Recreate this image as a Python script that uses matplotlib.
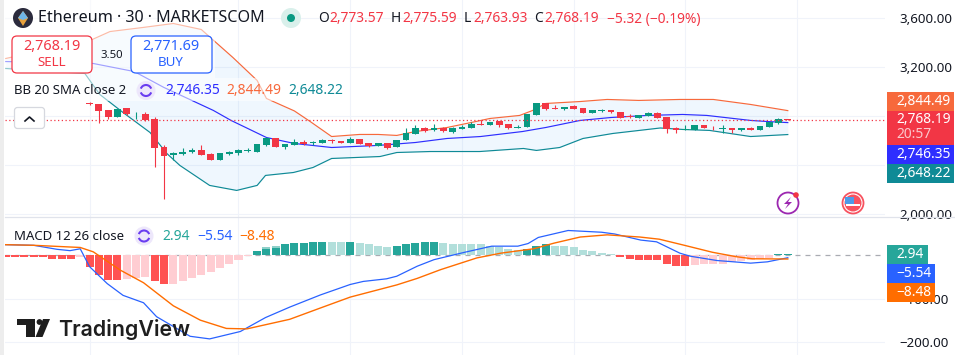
import numpy as np
import matplotlib
matplotlib.use("Agg")
import matplotlib.pyplot as plt
from matplotlib.patches import Rectangle, FancyBboxPatch, Circle, Polygon, Arc

plt.rcParams["font.family"] = ["Noto Sans", "DejaVu Sans"]

# candles
bar_idx = list(range(76))
opens = [2905, 2895, 2846, 2791, 2862, 2816, 2819, 2772, 2542, 2482, 2485, 2501, 2518, 2485, 2438, 2487, 2495, 2512, 2509,
         2559, 2616, 2542, 2561, 2591, 2578, 2578, 2600, 2594, 2575, 2608, 2575, 2555, 2578, 2545, 2600, 2649, 2698, 2682,
         2704, 2673, 2695, 2706, 2738, 2723, 2758, 2731, 2698, 2709, 2807, 2911, 2865, 2854, 2881, 2862, 2829, 2838, 2846,
         2835, 2799, 2788, 2799, 2821, 2796, 2700, 2682, 2682, 2725, 2706, 2690, 2706, 2684, 2706, 2682, 2714, 2745, 2773]
highs = [2915, 2897, 2850, 2860, 2862, 2835, 2837, 2796, 2559, 2507, 2540, 2540, 2559, 2496, 2493, 2510, 2526, 2534, 2567,
         2626, 2616, 2567, 2608, 2600, 2594, 2608, 2610, 2594, 2627, 2608, 2575, 2575, 2578, 2605, 2698, 2723, 2714, 2731,
         2709, 2714, 2725, 2752, 2769, 2755, 2758, 2736, 2725, 2813, 2911, 2911, 2887, 2878, 2887, 2862, 2846, 2854, 2851,
         2835, 2813, 2805, 2830, 2830, 2796, 2709, 2724, 2723, 2730, 2720, 2725, 2706, 2706, 2712, 2720, 2753, 2786, 2775.59]
lows = [2890, 2741, 2774, 2791, 2805, 2772, 2758, 2386, 2118, 2441, 2477, 2498, 2480, 2438, 2438, 2477, 2482, 2506, 2509,
        2553, 2542, 2526, 2561, 2561, 2561, 2578, 2583, 2578, 2575, 2569, 2545, 2555, 2526, 2545, 2600, 2649, 2668, 2676,
        2670, 2665, 2690, 2706, 2725, 2723, 2709, 2692, 2698, 2709, 2807, 2846, 2854, 2846, 2856, 2829, 2829, 2835, 2824,
        2788, 2788, 2788, 2799, 2788, 2660, 2657, 2682, 2682, 2700, 2682, 2665, 2665, 2680, 2684, 2682, 2714, 2738, 2763.93]
closes = [2895, 2840, 2791, 2860, 2813, 2819, 2764, 2536, 2471, 2499, 2509, 2518, 2480, 2438, 2493, 2503, 2520, 2520, 2567,
          2616, 2542, 2567, 2589, 2567, 2586, 2600, 2594, 2578, 2608, 2569, 2553, 2575, 2540, 2605, 2657, 2698, 2676, 2698,
          2676, 2706, 2714, 2736, 2730, 2755, 2725, 2698, 2714, 2813, 2911, 2854, 2856, 2878, 2856, 2829, 2846, 2846, 2832,
          2788, 2791, 2805, 2821, 2788, 2690, 2682, 2690, 2723, 2700, 2698, 2706, 2682, 2706, 2684, 2720, 2753, 2772, 2768.19]

# bollinger bands (read at the bends of each line)
upper_x = [-9, 0.3, 2.2, 5.7, 9, 12, 15.4, 18, 19, 22, 23.7, 26, 29, 31, 33, 35, 38.4, 41, 43, 46.2, 47.6, 49, 52.7, 55.6, 59, 63.4, 67, 71, 75]
upper_y = [3272, 3428, 3493, 3526, 3559, 3510, 3280, 3092, 2944, 2842, 2755, 2632, 2649, 2649, 2641, 2673, 2706, 2747, 2780, 2805, 2846, 2903, 2919, 2936, 2928, 2936, 2936, 2895, 2844.49]
mid_x = [-9, 0.4, 4.8, 8, 13.3, 15.2, 19, 22, 26, 31, 35, 38.4, 42, 46.5, 49, 52.7, 56, 59.9, 63.7, 66.3, 71, 72.8, 75]
mid_y = [3247, 3231, 3165, 3034, 2846, 2764, 2624, 2575, 2542, 2559, 2583, 2616, 2632, 2673, 2706, 2764, 2788, 2805, 2813, 2805, 2764, 2755, 2746.35]
lower_x = [-9, -0.5, 1.1, 3.6, 6.5, 8.3, 9.7, 12.9, 15.8, 18, 18.9, 21.9, 24, 26, 31.2, 33, 36.6, 41.9, 46.6, 48, 50.5, 53, 56.2, 61.3, 63.7, 66.6, 71, 75]
lower_y = [3190, 3149, 2977, 2829, 2665, 2493, 2395, 2231, 2190, 2231, 2313, 2337, 2378, 2452, 2468, 2501, 2509, 2509, 2534, 2518, 2542, 2616, 2657, 2702, 2690, 2682, 2632, 2648.22]

# macd
hist_idx = list(range(-9, 76))
hist = [-3, -3, -3, -3, -5, -8, -8, -8, -3, -26, -45, -57, -57, -54, -51, -49, -59, -66, -66, -59, -53, -45, -38, -29, -20,
        -11, -2, 10, 15, 16, 26, 28, 28, 30, 31, 31, 31, 31, 29, 25, 22, 20, 22, 25, 29, 31, 31, 29, 27, 27, 25, 25, 21, 19, 15,
        13, 15, 22, 25, 22, 22, 18, 13, 11, 6, 4, -3, -8, -10, -10, -10, -20, -25, -25, -22, -21, -20, -20, -15, -13, -11, -8, -6, 2, 2.94]
hist_strong = [1, 1, 1, 1, 1, 1, 1, 1, 0, 1, 1, 1, 1, 0, 0, 0, 1, 1, 0, 0, 0, 0, 0, 0, 0,
               0, 0, 1, 1, 1, 1, 1, 1, 1, 1, 0, 0, 1, 0, 0, 0, 0, 1, 1, 1, 1, 1, 0, 0, 0, 0, 0, 0, 0, 0,
               0, 1, 1, 1, 0, 0, 0, 0, 0, 0, 0, 1, 1, 1, 1, 1, 1, 1, 1, 0, 0, 0, 0, 0, 0, 0, 0, 0, 1, 1]
cap_idx = [19, 20]
cap_vals = [20, 21]
macd_x = [-9.2, -6, -3.5, -2.1, -1, 0, 1.9, 3.6, 5.8, 7.2, 10.8, 12.9, 16.2, 18.9, 21.5, 24.8, 28, 29.4, 31.9, 33, 35.2, 37, 40.3, 43.2, 46, 47.1, 48.2, 51.4, 55, 56.4, 59.2, 60.9, 63.4, 64.5, 67.4, 71, 72.8, 75]
macd_y = [24.5, 23, 13.8, 10.7, 15, -26, -65, -92, -109, -141, -186, -192, -175, -143, -119, -91, -67, -60, -54, -48, -25, -10, 7, 21, 21, 27, 41, 57, 53, 49, 35, 31, 5, -2, -12, -18, -15, -5.54]
signal_x = [-9.2, -6, -1, 0.4, 3.3, 5.8, 9, 11.9, 14.7, 16.9, 21.5, 24.8, 28, 33, 35.2, 37.7, 41.6, 44.2, 47.7, 49.9, 52.7, 55.6, 59.1, 61.2, 63.7, 66.9, 69.4, 71.2, 75]
signal_y = [24.5, 23, 18, 8, -34, -63, -116, -149, -168, -169, -147, -121, -96, -68, -53, -33, -6, 5, 15, 28, 42, 47, 42, 37, 24, 7, -3, -8, -8.48]

price_ticks = [3600, 3200, 2800, 2400, 2000]
price_labels = ["3,600.00", "3,200.00", "", "", "2,000.00"]
macd_ticks = [-100, -200]
macd_labels = ["\u2212100.00", "\u2212200.00"]
time_ticks = [0, 16, 28, 40, 52, 64, 76]

RED = "#F23645"
GREEN = "#089981"
GRID = "#F0F3FA"
TXT = "#131722"
UP_COL = "#F7693C"
MID_COL = "#2E2EFF"
LOW_COL = "#0F8A96"
BLUE = "#2962FF"
ORANGE = "#FF6D00"

W, H = 955, 355
fig = plt.figure(figsize=(W / 100, H / 100), dpi=100)

ax1 = fig.add_axes([5 / W, (H - 217) / H, 880 / W, 217 / H])
ax2 = fig.add_axes([5 / W, 0, 880 / W, (H - 217) / H])

for ax in (ax1, ax2):
    ax.set_xlim(-9.08, 85.44)
    ax.set_xticks(time_ticks)
    ax.tick_params(axis="x", length=0, labelbottom=False)
    ax.tick_params(axis="y", length=0, labelsize=9.6, pad=10, labelcolor=TXT)
    ax.yaxis.tick_right()
    ax.grid(color=GRID, linewidth=0.8)
    ax.set_axisbelow(True)
    for s in ax.spines.values():
        s.set_visible(False)

ax1.set_ylim(1972, 3751.7)
ax1.set_yticks(price_ticks)
ax1.set_yticklabels(price_labels)
ax2.set_ylim(-229, 88)
ax2.set_yticks(macd_ticks)
ax2.set_yticklabels(macd_labels)

# bands
xs = np.array(sorted(set(upper_x + lower_x)))
ax1.fill_between(xs, np.interp(xs, upper_x, upper_y), np.interp(xs, lower_x, lower_y),
                 color="#2196F3", alpha=0.07, linewidth=0, zorder=1)
ax1.plot(upper_x, upper_y, color=UP_COL, linewidth=0.85, zorder=2)
ax1.plot(mid_x, mid_y, color=MID_COL, linewidth=0.85, zorder=2)
ax1.plot(lower_x, lower_y, color=LOW_COL, linewidth=0.85, zorder=2)

# candles
cols = [GREEN if c >= o else RED for o, c in zip(opens, closes)]
ax1.vlines(bar_idx, lows, highs, colors=cols, linewidth=0.8, zorder=3)
ax1.bar(bar_idx, np.abs(np.array(closes) - np.array(opens)), bottom=np.minimum(opens, closes),
        width=0.72, color=cols, linewidth=0, zorder=3)
ax1.axhline(closes[-1], color=RED, linewidth=0.9, linestyle=(0, (1, 2)), zorder=4)

# macd pane
hist_cols = []
for v, s in zip(hist, hist_strong):
    if v >= 0:
        hist_cols.append("#26A69A" if s else "#B2DFDB")
    else:
        hist_cols.append("#FF5252" if s else "#FFCDD2")
ax2.axhline(0, color="#A9ABB2", linewidth=0.9, linestyle=(0, (4, 4)), zorder=1)
ax2.bar(cap_idx, cap_vals, width=0.86, color="#8FD0C9", linewidth=0, zorder=2)
ax2.bar(hist_idx, hist, width=0.86, color=hist_cols, linewidth=0, zorder=2)
ax2.plot(macd_x, macd_y, color=BLUE, linewidth=0.9, zorder=3)
ax2.plot(signal_x, signal_y, color=ORANGE, linewidth=1.0, zorder=3)

# overlay in pixel coordinates for the widgets
ov = fig.add_axes([0, 0, 1, 1], zorder=10)
ov.set_xlim(0, W)
ov.set_ylim(H, 0)
ov.axis("off")
ov.patch.set_alpha(0)

ov.add_patch(Rectangle((0, 0), 4, H, color="#EDEDED", linewidth=0))
ov.plot([5, W], [217.3, 217.3], color="#E0E3EB", linewidth=0.9)

# legend backgrounds
ov.add_patch(Rectangle((5, 0), 210, 78, color="white", alpha=0.55, linewidth=0))
ov.add_patch(Rectangle((5, 78), 345, 23, color="white", alpha=0.55, linewidth=0))


def label(x, y, s, color=TXT, size=10, ha="left", weight="normal"):
    ov.text(x, y, s, color=color, fontsize=size, ha=ha, va="center", fontweight=weight)


def refresh(x, y):
    ov.add_patch(Circle((x, y), 9.5, color="#EDE7FB", linewidth=0))
    ov.add_patch(Arc((x, y), 11, 11, theta1=200, theta2=340, color="#6A3DF0", linewidth=1.5))
    ov.add_patch(Arc((x, y), 11, 11, theta1=20, theta2=160, color="#6A3DF0", linewidth=1.5))


# title row
ov.add_patch(Circle((23, 18), 10, color="#2B2B3D", linewidth=0))
ov.add_patch(Polygon([(23, 11), (28, 18), (23, 26), (18, 18)], color="#E8A13C", linewidth=0))
ov.add_patch(Polygon([(23, 11), (28, 18), (23, 20), (18, 18)], color="#6FB5E8", linewidth=0))
label(38, 18, "Ethereum \u00b7 30 \u00b7 MARKETSCOM", size=11.6)
ov.add_patch(Circle((291, 18), 10, color="#D9F0EB", linewidth=0))
ov.add_patch(Circle((291, 18), 4, color=GREEN, linewidth=0))
for x, s, c in [(318, "O", TXT), (329, "2,773.57", RED), (391, "H", TXT), (402, "2,775.59", RED),
                (464, "L", TXT), (473, "2,763.93", RED), (534, "C", TXT), (544, "2,768.19", RED),
                (607, "\u22125.32 (\u22120.19%)", RED)]:
    label(x, 19, s, c, 9.9)

# sell / buy boxes
ov.add_patch(FancyBboxPatch((15, 39), 74, 31, boxstyle="round,pad=3,rounding_size=5", fc="white", ec=RED, lw=0.9))
ov.add_patch(FancyBboxPatch((134, 39), 75, 31, boxstyle="round,pad=3,rounding_size=5", fc="white", ec=BLUE, lw=0.9))
label(52, 47, "2,768.19", RED, 10.4, "center", "medium")
label(52, 62, "SELL", RED, 9.6, "center")
label(171, 47, "2,771.69", BLUE, 10.4, "center", "medium")
label(171, 62, "BUY", BLUE, 9.6, "center")
label(112, 55, "3.50", TXT, 8.2, "center")

# BB legend
label(14, 90.5, "BB 20 SMA close 2", TXT, 9.5)
refresh(146, 90.5)
label(165, 90.5, "2,746.35", MID_COL, 10)
label(226, 90.5, "2,844.49", UP_COL, 10)
label(288, 90.5, "2,648.22", LOW_COL, 10)

# collapse button
ov.add_patch(FancyBboxPatch((16, 109), 27, 18, boxstyle="round,pad=1.5,rounding_size=3", fc="white", ec="#D6D8DF", lw=0.9))
ov.plot([25, 29.5, 34], [121, 117, 121], color=TXT, linewidth=1.2)

# MACD legend
label(14, 236, "MACD 12 26 close", TXT, 9.5)
refresh(144, 236)
label(162, 236, "2.94", "#26A69A", 10)
label(197, 236, "\u22125.54", BLUE, 10)
label(239, 236, "\u22128.48", ORANGE, 10)

# event icons
ov.add_patch(Circle((788, 203), 10.5, fc="white", ec="#9C27B0", lw=1.3))
ov.add_patch(Polygon([(791, 197), (784, 204), (788, 204), (785, 209), (792, 202), (788, 202)], color="#9C27B0", linewidth=0))
ov.add_patch(Circle((796, 195), 2.8, color=RED, linewidth=0))
ov.add_patch(Circle((853, 203), 10.5, fc="white", ec="#F7525F", lw=1.3))
ov.add_patch(Circle((853, 203), 8.5, fc="#F7525F", linewidth=0))
ov.add_patch(Rectangle((846, 204), 14, 2.2, color="white", linewidth=0))
ov.add_patch(Rectangle((845, 197), 9, 7, color="#4C9AE8", linewidth=0))

# price tags
for y0, y1, c, x1 in [(92, 111, UP_COL, 954), (111, 144.7, RED, 954), (144.7, 164, MID_COL, 954), (164, 183, LOW_COL, 954),
                      (245, 264, "#26A69A", 928), (264, 282.7, BLUE, 935), (282.7, 301.7, ORANGE, 935)]:
    ov.add_patch(Rectangle((887, y0), x1 - 887, y1 - y0, color=c, linewidth=0))
label(896, 101.5, "2,844.49", "white", 9.9)
label(896, 119.5, "2,768.19", "white", 9.9)
label(896, 135, "20:57", "#FBC9CD", 9.9)
label(896, 154.5, "2,746.35", "white", 9.9)
label(896, 173.5, "2,648.22", "white", 9.9)
label(896, 254.5, "2.94", "white", 9.9)
label(896, 273.5, "\u22125.54", "white", 9.9)
label(896, 292.5, "\u22128.48", "white", 9.9)

# tradingview logo
ov.add_patch(Polygon([(17, 319), (35, 319), (35, 337), (26, 337), (26, 325), (17, 325)], color="#1E1E1E", linewidth=0))
ov.add_patch(Circle((39.5, 322), 2.9, color="#1E1E1E", linewidth=0))
ov.add_patch(Polygon([(43, 319), (50, 319), (42.5, 337), (35.5, 337)], color="#1E1E1E", linewidth=0))
ov.text(58, 335.5, "TradingView", color="#1E1E1E", fontsize=15.4, ha="left", va="baseline",
        family="Inter", fontweight="semibold")

fig.savefig("out.png", dpi=100)
